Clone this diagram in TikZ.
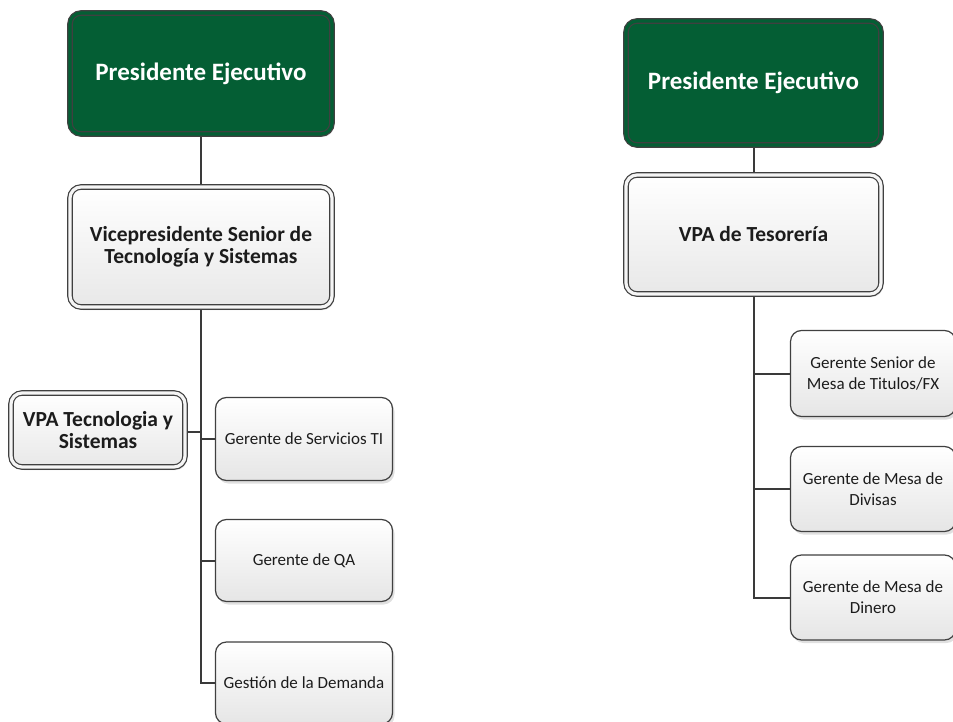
\documentclass[tikz,border=0pt]{standalone}
\usepackage{fontspec}
\setmainfont{Carlito}
\usetikzlibrary{shadows,backgrounds}
\definecolor{pgreen}{HTML}{045E34}
\definecolor{bordc}{HTML}{404040}
\definecolor{linec}{HTML}{3A3A3A}
\definecolor{txtc}{HTML}{1C1C1C}
\begin{document}
\begin{tikzpicture}[x=1pt,y=-1pt,
  base/.style={rounded corners=11pt, draw=bordc, line width=1.2pt, inner sep=2pt, align=center,
    drop shadow={shadow xshift=2pt,shadow yshift=-3pt,fill=black!35,opacity=0.35}},
  dbl/.style={double distance=3.2pt},
  pres/.style={base, dbl, fill=pgreen, double=pgreen, text=white,
    font=\fontsize{25}{25}\selectfont\bfseries},
  vpbox/.style={base, dbl, top color=white, bottom color=black!9, double=white!96!black, text=txtc,
    font=\fontsize{21.5}{21.5}\selectfont\bfseries},
  mgr/.style={base, top color=white, bottom color=black!10, text=txtc,
    font=\fontsize{17}{21}\selectfont},
  conn/.style={draw=linec, line width=2pt}]
\useasboundingbox (0,0) rectangle (953,722);
% left tree
\node[pres, minimum width=262pt, minimum height=121pt] (Lpres) at (201,73.5) {Presidente Ejecutivo};
\node[vpbox, minimum width=262pt, minimum height=120pt] (Lvp) at (201,247) {Vicepresidente Senior de\\Tecnología y Sistemas};
\node[vpbox, minimum width=174pt, minimum height=74pt] (Lvpa) at (98,430) {VPA Tecnologia y\\Sistemas};
\node[mgr, minimum width=177pt, minimum height=83pt] (Lserv) at (304,439) {Gerente de Servicios TI};
\node[mgr, minimum width=177pt, minimum height=82pt] (Lqa) at (304,560.5) {Gerente de QA};
\node[mgr, minimum width=177pt, minimum height=82pt] (Ldem) at (304,683) {Gestión de la Demanda};
% right tree
\node[pres, minimum width=255pt, minimum height=124pt] (Rpres) at (753.5,83) {Presidente Ejecutivo};
\node[vpbox, minimum width=255pt, minimum height=119pt] (Rvp) at (753.5,234.5) {VPA de Tesorería};
\node[mgr, minimum width=165pt, minimum height=86pt] (Rg1) at (873,373.5) {Gerente Senior de\\Mesa de Titulos/FX};
\node[mgr, minimum width=165pt, minimum height=85pt] (Rg2) at (873,489) {Gerente de Mesa de\\Divisas};
\node[mgr, minimum width=165pt, minimum height=85pt] (Rg3) at (873,597.5) {Gerente de Mesa de\\Dinero};
\begin{pgfonlayer}{background}
\draw[conn] (Lpres) -- (Lvp);
\draw[conn] (Lvp.south) |- (Ldem.west);
\draw[conn] (Lserv.west) -- (Lserv.west -| Lvp.south);
\draw[conn] (Lqa.west) -- (Lqa.west -| Lvp.south);
\draw[conn] ([yshift=-2pt]Lvpa.east) -- ([yshift=-2pt]Lvpa.east -| Lvp.south);
\draw[conn] (Rpres) -- (Rvp);
\draw[conn] (Rvp.south) |- (Rg3.west);
\draw[conn] (Rg1.west) -- (Rg1.west -| Rvp.south);
\draw[conn] (Rg2.west) -- (Rg2.west -| Rvp.south);
\end{pgfonlayer}
\end{tikzpicture}
\end{document}
